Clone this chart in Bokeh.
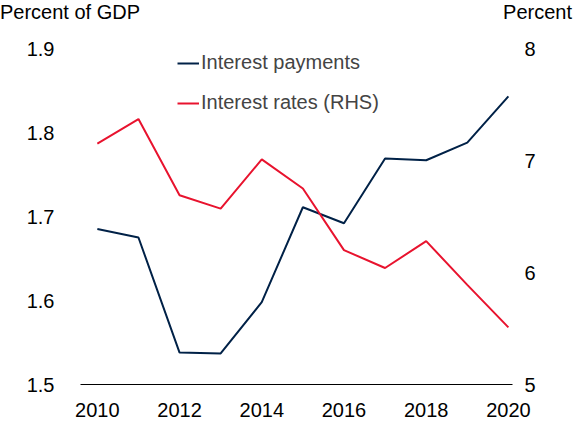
from bokeh.plotting import figure
from bokeh.models import Range1d, LinearAxis, Legend, LegendItem, FixedTicker, Div
from bokeh.layouts import column, row
from bokeh.embed import file_html
from bokeh.resources import INLINE

years = list(range(2010, 2021))
interest_payments = [1.685, 1.675, 1.538, 1.537, 1.598, 1.711, 1.692, 1.769, 1.767, 1.788, 1.843]
interest_rates = [7.15, 7.37, 6.69, 6.57, 7.01, 6.75, 6.20, 6.04, 6.28, 5.89, 5.51]
x_ticks = [2010, 2012, 2014, 2016, 2018, 2020]

FONT = "Liberation Sans"
p = figure(width=566, height=396, output_backend="svg", toolbar_location=None,
           x_range=Range1d(2009.59, 2020.10), y_range=Range1d(1.5, 1.9),
           min_border_left=80, min_border_right=54, min_border_top=24, min_border_bottom=36)
p.extra_y_ranges = {"r": Range1d(5, 8)}
p.outline_line_color = None
p.grid.visible = False

p.xaxis.ticker = FixedTicker(ticks=x_ticks)
p.yaxis.ticker = FixedTicker(ticks=[1.5, 1.6, 1.7, 1.8, 1.9])
p.yaxis.formatter.use_scientific = False
ra = LinearAxis(y_range_name="r", ticker=FixedTicker(ticks=[5, 6, 7, 8]))
p.add_layout(ra, "right")
for ax in [p.xaxis[0], p.yaxis[0], ra]:
    ax.major_label_text_font = FONT
    ax.major_label_text_font_size = "20px"
    ax.major_label_text_color = "black"
    ax.major_tick_line_color = None
    ax.minor_tick_line_color = None
for ax in [p.yaxis[0], ra]:
    ax.axis_line_color = None
p.xaxis.axis_line_color = "black"
p.xaxis.axis_line_width = 1
p.xaxis.major_label_standoff = 12
p.yaxis[0].major_label_standoff = 20
ra.major_label_standoff = 6

l1 = p.line(years, interest_payments, line_color="#002147", line_width=2)
l2 = p.line(years, interest_rates, line_color="#E8132E", line_width=2, y_range_name="r")

leg = Legend(items=[LegendItem(label="Interest payments", renderers=[l1]),
                    LegendItem(label="Interest rates (RHS)", renderers=[l2])],
             location=(97, 270), border_line_color=None, background_fill_alpha=0,
             label_text_font=FONT, label_text_font_size="20px", glyph_width=22,
             label_standoff=2, spacing=17, padding=0, margin=0)
p.add_layout(leg, "center")

style = {"font-family": FONT, "font-size": "20px", "color": "black", "line-height": "24px"}
d1 = Div(text="Percent of GDP", width=283, height=24, styles=style, margin=0)
d2 = Div(text="Percent", width=289, height=24, styles=dict(style, **{"text-align": "right"}), margin=0)
layout = column(row(d1, d2, spacing=0), p, spacing=0)

open("out.html", "w").write(file_html(layout, INLINE))
